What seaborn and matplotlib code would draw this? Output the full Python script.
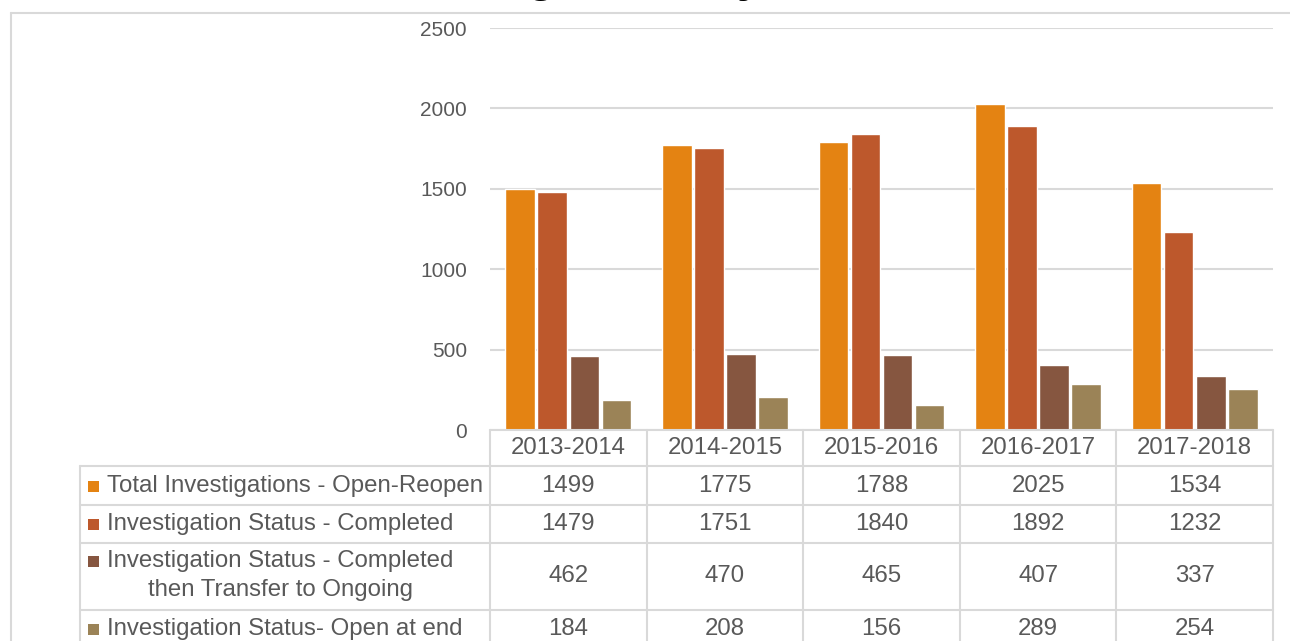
import matplotlib
matplotlib.use("Agg")
import matplotlib.pyplot as plt
from matplotlib.lines import Line2D
from matplotlib.patches import Rectangle
import pandas as pd
import seaborn as sns

# ---- data -------------------------------------------------------------
years = ["2013-2014", "2014-2015", "2015-2016", "2016-2017", "2017-2018"]
series_names = [
    "Total Investigations - Open-Reopen",
    "Investigation Status - Completed",
    "Investigation Status - Completed\nthen Transfer to Ongoing",
    "Investigation Status- Open at end",
]
total_open_reopen = [1499, 1775, 1788, 2025, 1534]
status_completed = [1479, 1751, 1840, 1892, 1232]
completed_then_transfer = [462, 470, 465, 407, 337]
open_at_end = [184, 208, 156, 289, 254]
series_values = [total_open_reopen, status_completed,
                 completed_then_transfer, open_at_end]
colors = ["#E48312", "#BD582C", "#865640", "#9B8357"]
y_ticks = [0, 500, 1000, 1500, 2000, 2500]
title = "Investigations by Year, 2013-2018"

df = pd.DataFrame(
    [(yr, name, vals[i]) for name, vals in zip(series_names, series_values)
     for i, yr in enumerate(years)],
    columns=["year", "series", "value"],
)

# ---- layout helpers (pixel coordinates, origin top-left) ---------------
W, H = 1290, 641
sns.set_theme(style="white")
plt.rcParams["font.family"] = ["Liberation Sans", "DejaVu Sans"]
TXT = "#595959"
GRID = "#D9D9D9"

fig = plt.figure(figsize=(W / 100, H / 100), dpi=100)


def fx(x):
    return x / W


def fy(y):
    return 1 - y / H


def hline(y, x0, x1, lw=1.5):
    fig.add_artist(Line2D([fx(x0), fx(x1)], [fy(y), fy(y)], color=GRID,
                          lw=lw, transform=fig.transFigure, zorder=1))


def vline(x, y0, y1, lw=1.5):
    fig.add_artist(Line2D([fx(x), fx(x)], [fy(y0), fy(y1)], color=GRID,
                          lw=lw, transform=fig.transFigure, zorder=1))


# plot area
ax_l, ax_r, ax_t, ax_b = 490, 1273, 28, 430
ax = fig.add_axes([fx(ax_l), fy(ax_b), fx(ax_r - ax_l), (ax_b - ax_t) / H])

sns.barplot(data=df, x="year", y="value",
            hue="series", hue_order=series_names, order=years,
            palette=colors, width=0.82, gap=0.08, legend=False,
            saturation=1, ax=ax, zorder=3)

ax.set_xlim(-0.5, len(years) - 0.5)
ax.set_ylim(0, 2500)
ax.set_yticks(y_ticks)
ax.set_yticklabels([str(v) for v in y_ticks], fontsize=15, color=TXT)
ax.tick_params(axis="y", length=0, pad=16.5)
ax.set_xticks([])
ax.set_xlabel("")
ax.set_ylabel("")
for s in ax.spines.values():
    s.set_visible(False)
ax.yaxis.grid(True, color=GRID, lw=1.5, zorder=0)
ax.set_axisbelow(True)

# ---- outer frame ---------------------------------------------------------
hline(13, 11, W)
vline(11, 13, H)

# title, running off the top edge of the canvas
fig.text(fx(377), fy(-9), title, ha="left", va="baseline", fontsize=34,
         fontweight="bold", color="black")

# ---- data table ----------------------------------------------------------
col_w = (ax_r - ax_l) / len(years)
col_edges = [ax_l + i * col_w for i in range(len(years) + 1)]
row_lines = [466, 505, 543, 610]
label_left = 80

hline(ax_b, ax_l, ax_r)
for y in row_lines:
    hline(y, label_left, ax_r)
vline(label_left, 466, H)
for x in col_edges:
    vline(x, ax_b, H)

tfs = 17.3
for i, yr in enumerate(years):
    cx = (col_edges[i] + col_edges[i + 1]) / 2
    fig.text(fx(cx), fy(448), yr, ha="center", va="center", fontsize=tfs,
             color=TXT)

row_centers = [486, 524, 576, 629]
text_x = 107
renderer = fig.canvas.get_renderer()
for r, (name, vals, c) in enumerate(zip(series_names, series_values, colors)):
    yc = row_centers[r]
    lines = name.split("\n")
    if len(lines) > 1:
        first_y, second_y = 561, 590
        t1 = fig.text(fx(text_x), fy(first_y), lines[0], ha="left",
                      va="center", fontsize=tfs, color=TXT)
        bb = t1.get_window_extent(renderer=renderer)
        mid = text_x + bb.width / 2
        fig.text(fx(mid), fy(second_y), lines[1], ha="center", va="center",
                 fontsize=tfs, color=TXT)
        my = first_y
    else:
        fig.text(fx(text_x), fy(yc), name, ha="left", va="center",
                 fontsize=tfs, color=TXT)
        my = yc
    fig.add_artist(Rectangle((fx(88), fy(my + 6)), fx(11), 11 / H,
                             facecolor=c, edgecolor="none",
                             transform=fig.transFigure))
    for i, v in enumerate(vals):
        cx = (col_edges[i] + col_edges[i + 1]) / 2
        fig.text(fx(cx), fy(yc), str(v), ha="center", va="center",
                 fontsize=tfs, color=TXT)

fig.savefig("out.png", dpi=100, facecolor="white")
